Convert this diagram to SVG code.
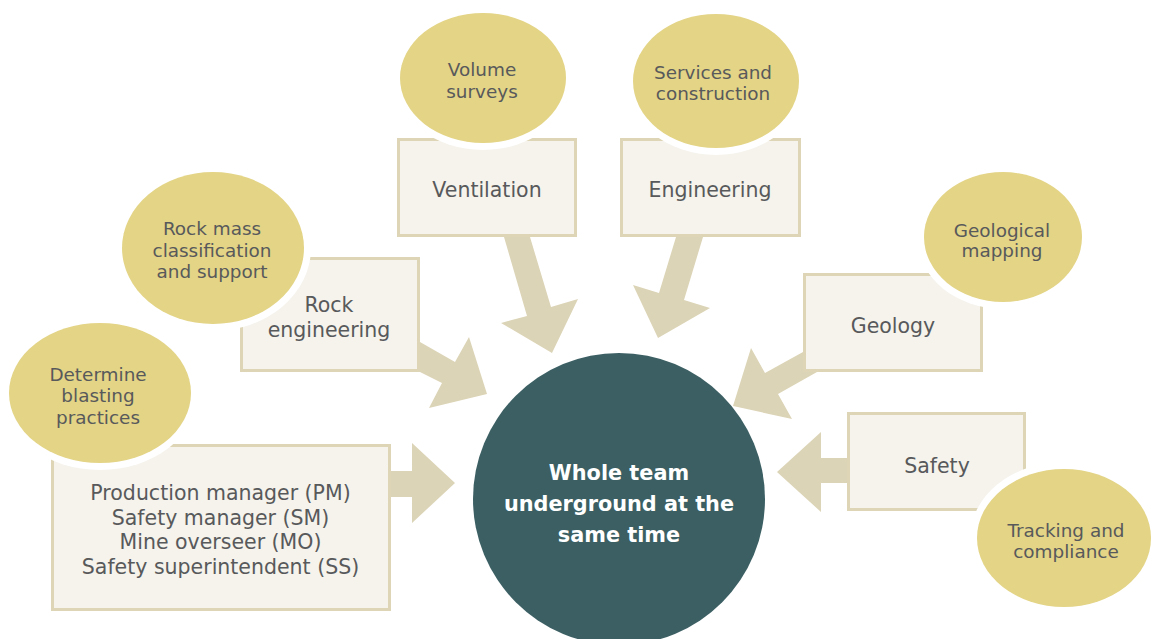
<svg xmlns="http://www.w3.org/2000/svg" width="1151" height="639" viewBox="0 0 1151 639">
<style>
.box{fill:#f5f3ec;stroke:#ddd5b5;stroke-width:3}
.halo{fill:#ffffff}
.ell{fill:#e3d486}
.arr{fill:#dcd4b6}
.bt{font-family:"DejaVu Sans",sans-serif;font-size:20.5px;fill:#58595b;text-anchor:middle}
.et{font-family:"DejaVu Sans",sans-serif;font-size:18.4px;fill:#58595b;text-anchor:middle}
.ct{font-family:"DejaVu Sans",sans-serif;font-size:20.8px;font-weight:bold;fill:#ffffff;text-anchor:middle}
</style>
<rect width="1151" height="639" fill="#ffffff"/>
<g id="connectors">
<polygon class="arr" points="504,237 530,237 551,307 578,299 552,353 501,323 527,316"/>
<polygon class="arr" points="676,237 703,237 684,300 710,308 658,338 633,285 659,293"/>
<polygon class="arr" points="420,342 455,362 469,337 487,394 429,408 442,383 420,372"/>
<polygon class="arr" points="391,471 412,471 412,443 455,483 412,523 412,497 391,497"/>
<polygon class="arr" points="803,352 765,373 751,348 733,406 792,419 778,394 817,372"/>
<polygon class="arr" points="847,458 821,458 821,432 777,472 821,512 821,483 847,483"/>
</g>
<g id="center">
<circle cx="619" cy="499" r="146" fill="#3b5f63"/>
<text class="ct" x="619" y="480">Whole team</text>
<text class="ct" x="619" y="511">underground at the</text>
<text class="ct" x="619" y="542">same time</text>
</g>
<g id="ventilation">
<rect class="box" x="398.5" y="139.5" width="177" height="96"/>
<text class="bt" x="487" y="197">Ventilation</text>
</g>
<g id="engineering">
<rect class="box" x="621.5" y="139.5" width="178" height="96"/>
<text class="bt" x="710" y="197">Engineering</text>
</g>
<g id="rock-engineering">
<rect class="box" x="241.5" y="258.5" width="177" height="112"/>
<text class="bt" x="329" y="312">Rock</text>
<text class="bt" x="329" y="337">engineering</text>
</g>
<g id="managers">
<rect class="box" x="52.5" y="445.5" width="337" height="164"/>
<text class="bt" x="220.5" y="500">Production manager (PM)</text>
<text class="bt" x="220.5" y="525">Safety manager (SM)</text>
<text class="bt" x="220.5" y="549">Mine overseer (MO)</text>
<text class="bt" x="220.5" y="574">Safety superintendent (SS)</text>
</g>
<g id="geology">
<rect class="box" x="804.5" y="274.5" width="177" height="96"/>
<text class="bt" x="893" y="333">Geology</text>
</g>
<g id="safety">
<rect class="box" x="848.5" y="413.5" width="176" height="96"/>
<text class="bt" x="937" y="473">Safety</text>
</g>
<g id="volume-surveys">
<ellipse class="halo" cx="483" cy="78" rx="90" ry="72"/>
<ellipse class="ell" cx="483" cy="78" rx="83" ry="65"/>
<text class="et" x="482" y="76">Volume</text>
<text class="et" x="482" y="98">surveys</text>
</g>
<g id="services-construction">
<ellipse class="halo" cx="716" cy="81" rx="90" ry="74"/>
<ellipse class="ell" cx="716" cy="81" rx="83" ry="67"/>
<text class="et" x="713" y="79">Services and</text>
<text class="et" x="713" y="100">construction</text>
</g>
<g id="rock-mass">
<ellipse class="halo" cx="213" cy="248" rx="98" ry="83"/>
<ellipse class="ell" cx="213" cy="248" rx="91" ry="76"/>
<text class="et" x="212" y="235">Rock mass</text>
<text class="et" x="212" y="257">classification</text>
<text class="et" x="212" y="278">and support</text>
</g>
<g id="blasting">
<ellipse class="halo" cx="100" cy="393" rx="98" ry="77"/>
<ellipse class="ell" cx="100" cy="393" rx="91" ry="70"/>
<text class="et" x="98" y="381">Determine</text>
<text class="et" x="98" y="402">blasting</text>
<text class="et" x="98" y="424">practices</text>
</g>
<g id="geological-mapping">
<ellipse class="halo" cx="1003" cy="237" rx="86" ry="72"/>
<ellipse class="ell" cx="1003" cy="237" rx="79" ry="65"/>
<text class="et" x="1002" y="237">Geological</text>
<text class="et" x="1002" y="257">mapping</text>
</g>
<g id="tracking">
<ellipse class="halo" cx="1064" cy="538" rx="94" ry="76"/>
<ellipse class="ell" cx="1064" cy="538" rx="87" ry="69"/>
<text class="et" x="1066" y="537">Tracking and</text>
<text class="et" x="1066" y="558">compliance</text>
</g>
</svg>
